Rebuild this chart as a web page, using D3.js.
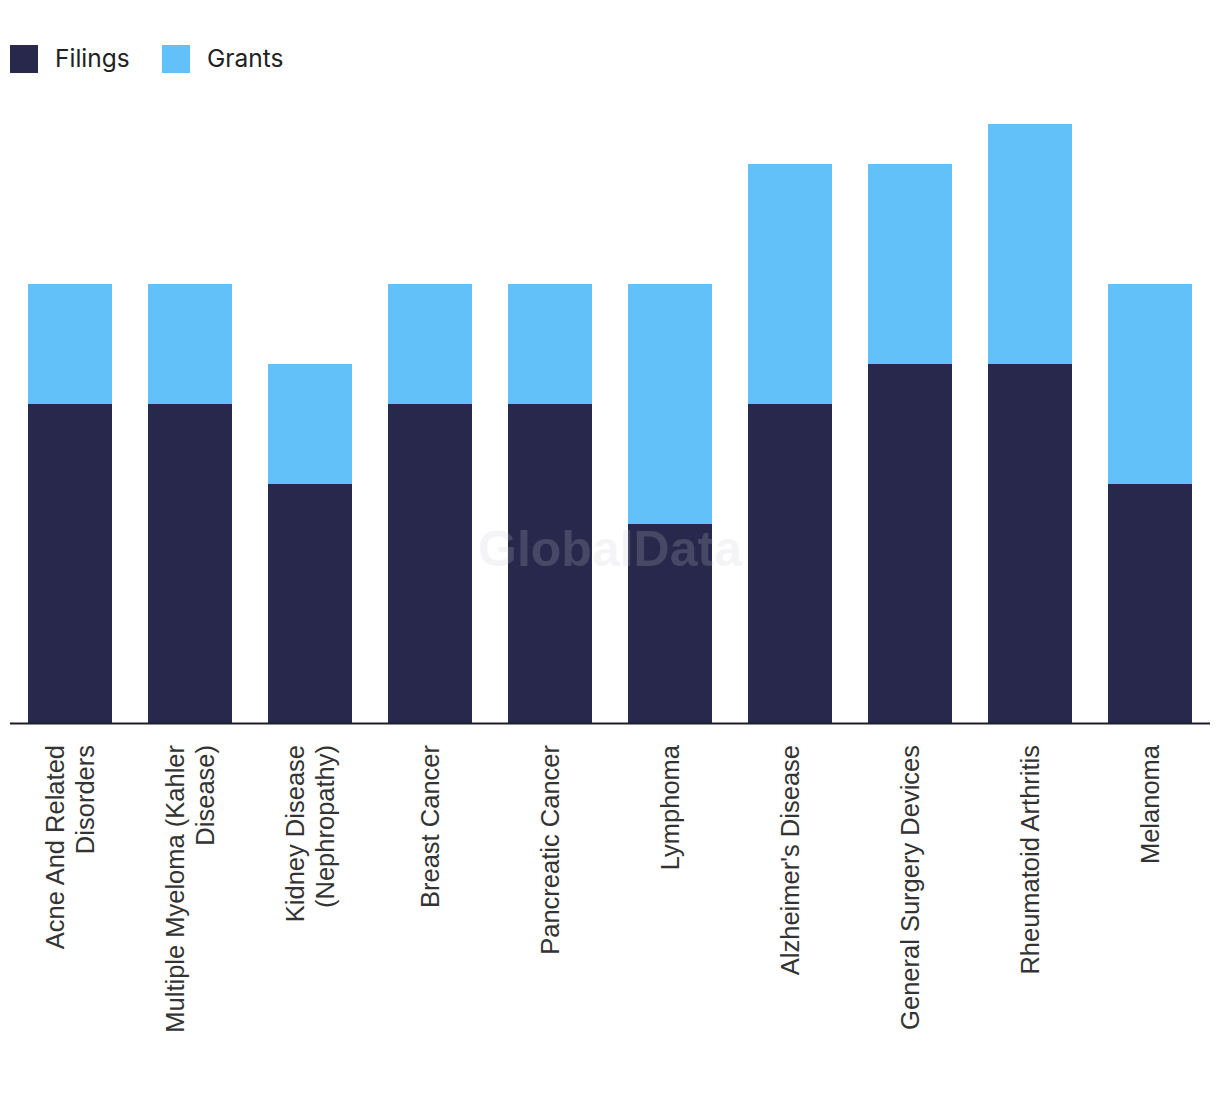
<!DOCTYPE html>
<html><head><meta charset="utf-8">
<script src="https://cdn.jsdelivr.net/npm/d3@7"></script>
<style>body{margin:0;background:#fff}</style>
</head><body>
<svg id="chart" width="1220" height="1094"></svg>
<script>
const categories = ["Acne And Related Disorders","Multiple Myeloma (Kahler Disease)","Kidney Disease (Nephropathy)","Breast Cancer","Pancreatic Cancer","Lymphoma","Alzheimer's Disease","General Surgery Devices","Rheumatoid Arthritis","Melanoma"];
const labelLines = [["Acne And Related","Disorders"],["Multiple Myeloma (Kahler","Disease)"],["Kidney Disease","(Nephropathy)"],["Breast Cancer"],["Pancreatic Cancer"],["Lymphoma"],["Alzheimer's Disease"],["General Surgery Devices"],["Rheumatoid Arthritis"],["Melanoma"]];
const filings = [8,8,6,8,8,5,8,9,9,6];
const grants  = [3,3,3,3,3,6,6,5,6,5];
const seriesNames = ["Filings","Grants"];
const colors = ["#27284b","#62c1f9"];

const svg = d3.select("#chart");
const x = d3.scaleBand().domain(categories).range([10,1210]).paddingInner(0.3).paddingOuter(0.15);
const y = d3.scaleLinear().domain([0,15]).range([724,124]);

const rows = categories.map((c,i)=>({cat:c, Filings:filings[i], Grants:grants[i]}));
const stack = d3.stack().keys(seriesNames)(rows);

svg.append("g").selectAll("g").data(stack).join("g")
  .attr("fill",(d,i)=>colors[i])
  .selectAll("rect").data(d=>d).join("rect")
  .attr("x",d=>x(d.data.cat)).attr("width",x.bandwidth())
  .attr("y",d=>y(d[1])).attr("height",d=>y(d[0])-y(d[1]));

svg.append("text").attr("x",610).attr("y",566).attr("text-anchor","middle")
  .attr("font-family","Liberation Sans, Arial, sans-serif").attr("font-weight","bold")
  .attr("font-size",50).attr("fill","#c8c8d2").attr("fill-opacity",0.2).text("GlobalData");

// axis line
svg.append("line").attr("x1",10).attr("x2",1210).attr("y1",723.5).attr("y2",723.5)
  .attr("stroke","#1c1c2e").attr("stroke-width",2);

// labels
const lg = svg.append("g").selectAll("text").data(categories).join("text")
  .attr("transform",d=>`translate(${x(d)+x.bandwidth()/2},745) rotate(-90)`)
  .attr("text-anchor","end")
  .attr("font-family","Liberation Sans, Arial, sans-serif").attr("font-size",25.5).attr("fill","#333");
lg.each(function(d,i){
  const lines = labelLines[i];
  const n = lines.length;
  const t = d3.select(this);
  lines.forEach((ln,j)=>{
    t.append("tspan").attr("x",0).attr("y",(j-(n-1)/2)*30 + 9).text(ln);
  });
});

// legend
const leg = svg.append("g");
const legX = [10,162];
seriesNames.forEach((s,i)=>{
  leg.append("rect").attr("x",legX[i]).attr("y",45).attr("width",28).attr("height",28).attr("fill",colors[i]);
  leg.append("text").attr("x",legX[i]+45).attr("y",67).attr("font-family","Inter, Lato, sans-serif")
    .attr("font-size",24.5).attr("fill","#222").text(s);
});
</script>
</body></html>
